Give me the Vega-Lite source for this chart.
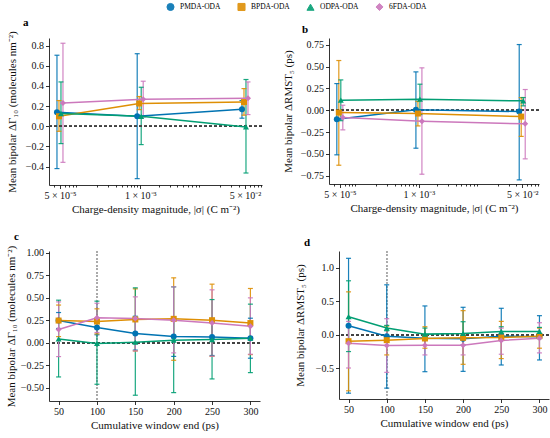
{
  "$schema": "https://vega.github.io/schema/vega-lite/v6.json",
  "padding": {"top": 2, "left": 5, "right": 4, "bottom": 4},
  "datasets": {
    "a": [
      {"series": "PMDA-ODA", "x": 0.00005, "y": 0.139, "lo": -0.42, "hi": 0.705},
      {"series": "PMDA-ODA", "x": 0.001, "y": 0.099, "lo": -0.52, "hi": 0.72},
      {"series": "PMDA-ODA", "x": 0.05, "y": 0.168, "lo": 0.08, "hi": 0.255},
      {"series": "BPDA-ODA", "x": 0.00005, "y": 0.099, "lo": -0.05, "hi": 0.255},
      {"series": "BPDA-ODA", "x": 0.001, "y": 0.226, "lo": 0.165, "hi": 0.295},
      {"series": "BPDA-ODA", "x": 0.05, "y": 0.24, "lo": 0.11, "hi": 0.374},
      {"series": "ODPA-ODA", "x": 0.00005, "y": 0.126, "lo": -0.172, "hi": 0.44},
      {"series": "ODPA-ODA", "x": 0.001, "y": 0.099, "lo": -0.182, "hi": 0.387},
      {"series": "ODPA-ODA", "x": 0.05, "y": -0.007, "lo": -0.464, "hi": 0.464},
      {"series": "6FDA-ODA", "x": 0.00005, "y": 0.232, "lo": -0.358, "hi": 0.824},
      {"series": "6FDA-ODA", "x": 0.001, "y": 0.268, "lo": 0.09, "hi": 0.447},
      {"series": "6FDA-ODA", "x": 0.05, "y": 0.278, "lo": 0.116, "hi": 0.44}
    ],
    "b": [
      {"series": "PMDA-ODA", "x": 0.00005, "y": -0.103, "lo": -0.511, "hi": 0.305},
      {"series": "PMDA-ODA", "x": 0.001, "y": 0.004, "lo": -0.435, "hi": 0.439},
      {"series": "PMDA-ODA", "x": 0.05, "y": -0.015, "lo": -0.798, "hi": 0.752},
      {"series": "BPDA-ODA", "x": 0.00005, "y": -0.027, "lo": -0.63, "hi": 0.569},
      {"series": "BPDA-ODA", "x": 0.001, "y": -0.038, "lo": -0.18, "hi": 0.1},
      {"series": "BPDA-ODA", "x": 0.05, "y": -0.073, "lo": -0.3, "hi": 0.145},
      {"series": "ODPA-ODA", "x": 0.00005, "y": 0.115, "lo": -0.12, "hi": 0.347},
      {"series": "ODPA-ODA", "x": 0.001, "y": 0.126, "lo": -0.05, "hi": 0.298},
      {"series": "ODPA-ODA", "x": 0.05, "y": 0.107, "lo": 0.05, "hi": 0.145},
      {"series": "6FDA-ODA", "x": 0.00005, "y": -0.084, "lo": -0.225, "hi": 0.057},
      {"series": "6FDA-ODA", "x": 0.001, "y": -0.126, "lo": -0.733, "hi": 0.485},
      {"series": "6FDA-ODA", "x": 0.05, "y": -0.156, "lo": -0.557, "hi": 0.237}
    ],
    "c": [
      {"series": "PMDA-ODA", "x": 50, "y": 0.248, "lo": 0.16, "hi": 0.337},
      {"series": "PMDA-ODA", "x": 100, "y": 0.17, "lo": 0.09, "hi": 0.25},
      {"series": "PMDA-ODA", "x": 150, "y": 0.104, "lo": -0.08, "hi": 0.296},
      {"series": "PMDA-ODA", "x": 200, "y": 0.07, "lo": -0.15, "hi": 0.29},
      {"series": "PMDA-ODA", "x": 250, "y": 0.066, "lo": -0.14, "hi": 0.27},
      {"series": "PMDA-ODA", "x": 300, "y": 0.052, "lo": -0.17, "hi": 0.274},
      {"series": "BPDA-ODA", "x": 50, "y": 0.248, "lo": 0.07, "hi": 0.42},
      {"series": "BPDA-ODA", "x": 100, "y": 0.237, "lo": 0.1, "hi": 0.378},
      {"series": "BPDA-ODA", "x": 150, "y": 0.26, "lo": -0.09, "hi": 0.6},
      {"series": "BPDA-ODA", "x": 200, "y": 0.267, "lo": -0.193, "hi": 0.722},
      {"series": "BPDA-ODA", "x": 250, "y": 0.252, "lo": -0.15, "hi": 0.652},
      {"series": "BPDA-ODA", "x": 300, "y": 0.22, "lo": -0.13, "hi": 0.604},
      {"series": "ODPA-ODA", "x": 50, "y": 0.044, "lo": -0.378, "hi": 0.474},
      {"series": "ODPA-ODA", "x": 100, "y": -0.007, "lo": -0.459, "hi": 0.463},
      {"series": "ODPA-ODA", "x": 150, "y": 0.007, "lo": -0.581, "hi": 0.611},
      {"series": "ODPA-ODA", "x": 200, "y": 0.03, "lo": -0.552, "hi": 0.622},
      {"series": "ODPA-ODA", "x": 250, "y": 0.037, "lo": -0.4, "hi": 0.481},
      {"series": "ODPA-ODA", "x": 300, "y": 0.052, "lo": -0.33, "hi": 0.43},
      {"series": "6FDA-ODA", "x": 50, "y": 0.148, "lo": -0.152, "hi": 0.455},
      {"series": "6FDA-ODA", "x": 100, "y": 0.278, "lo": 0.115, "hi": 0.44},
      {"series": "6FDA-ODA", "x": 150, "y": 0.27, "lo": -0.089, "hi": 0.511},
      {"series": "6FDA-ODA", "x": 200, "y": 0.252, "lo": -0.111, "hi": 0.622},
      {"series": "6FDA-ODA", "x": 250, "y": 0.222, "lo": -0.148, "hi": 0.589},
      {"series": "6FDA-ODA", "x": 300, "y": 0.185, "lo": -0.126, "hi": 0.5}
    ],
    "d": [
      {"series": "PMDA-ODA", "x": 50, "y": 0.135, "lo": -0.87, "hi": 1.14},
      {"series": "PMDA-ODA", "x": 100, "y": -0.02, "lo": -0.795, "hi": 0.745},
      {"series": "PMDA-ODA", "x": 150, "y": -0.05, "lo": -0.55, "hi": 0.43},
      {"series": "PMDA-ODA", "x": 200, "y": -0.06, "lo": -0.545, "hi": 0.41},
      {"series": "PMDA-ODA", "x": 250, "y": -0.02, "lo": -0.45, "hi": 0.395},
      {"series": "PMDA-ODA", "x": 300, "y": -0.03, "lo": -0.375, "hi": 0.285},
      {"series": "BPDA-ODA", "x": 50, "y": -0.095, "lo": -0.835, "hi": 0.64},
      {"series": "BPDA-ODA", "x": 100, "y": -0.08, "lo": -0.3, "hi": 0.13},
      {"series": "BPDA-ODA", "x": 150, "y": -0.055, "lo": -0.2, "hi": 0.12},
      {"series": "BPDA-ODA", "x": 200, "y": -0.045, "lo": -0.44, "hi": 0.36},
      {"series": "BPDA-ODA", "x": 250, "y": -0.04, "lo": -0.355, "hi": 0.2},
      {"series": "BPDA-ODA", "x": 300, "y": -0.02, "lo": -0.2, "hi": 0.1},
      {"series": "ODPA-ODA", "x": 50, "y": 0.27, "lo": -0.25, "hi": 0.805},
      {"series": "ODPA-ODA", "x": 100, "y": 0.1, "lo": 0.06, "hi": 0.14},
      {"series": "ODPA-ODA", "x": 150, "y": 0.01, "lo": -0.07, "hi": 0.1},
      {"series": "ODPA-ODA", "x": 200, "y": 0.02, "lo": -0.15, "hi": 0.195},
      {"series": "ODPA-ODA", "x": 250, "y": 0.05, "lo": -0.03, "hi": 0.12},
      {"series": "ODPA-ODA", "x": 300, "y": 0.05, "lo": -0.01, "hi": 0.11},
      {"series": "6FDA-ODA", "x": 50, "y": -0.125, "lo": -0.495, "hi": 0.2},
      {"series": "6FDA-ODA", "x": 100, "y": -0.16, "lo": -0.56, "hi": 0.24},
      {"series": "6FDA-ODA", "x": 150, "y": -0.155, "lo": -0.3, "hi": -0.02},
      {"series": "6FDA-ODA", "x": 200, "y": -0.155, "lo": -0.3, "hi": 0.0},
      {"series": "6FDA-ODA", "x": 250, "y": -0.085, "lo": -0.29, "hi": 0.1},
      {"series": "6FDA-ODA", "x": 300, "y": -0.05, "lo": -0.27, "hi": 0.18}
    ]
  },
  "vconcat": [
    {
      "hconcat": [
        {
          "width": 213, "height": 147,
          "title": {"text": "a", "anchor": "start", "frame": "group", "dx": -26, "fontSize": 11, "fontWeight": "bold", "font": "Liberation Serif", "offset": 3},
          "data": {"name": "a"},
          "resolve": {"axis": {"x": "independent"}},
          "layer": [
            {"mark": {"type": "rule", "strokeWidth": 1.2, "opacity": 0.9, "xOffset": {"expr": "datum.series === 'PMDA-ODA' ? -3 : datum.series === 'BPDA-ODA' ? -1 : datum.series === 'ODPA-ODA' ? 1 : 3"}},
             "encoding": {
               "x": {"field": "x", "type": "quantitative", "scale": {"type": "log", "domain": [0.0000332, 0.0944], "nice": false}, "axis": {"orient": "bottom", "values": [0.00004, 0.00006, 0.00007, 0.00008, 0.00009, 0.0002, 0.0003, 0.0004, 0.0005, 0.0006, 0.0007, 0.0008, 0.0009, 0.002, 0.003, 0.004, 0.005, 0.006, 0.007, 0.008, 0.009, 0.02, 0.03, 0.04, 0.06, 0.07, 0.08, 0.09], "labels": false, "domain": false, "tickSize": 2, "title": null, "grid": false}},
               "y": {"field": "lo", "type": "quantitative", "scale": {"domain": [-0.583, 0.876], "nice": false, "zero": false}, "axis": {"values": [-0.4, -0.2, 0, 0.2, 0.4, 0.6, 0.8], "format": ".1f", "titlePadding": 8, "title": "Mean bipolar ΔΓ₁₀ (molecules nm⁻²)"}},
               "y2": {"field": "hi"},
               "color": {"field": "series", "type": "nominal", "scale": {"domain": ["PMDA-ODA", "BPDA-ODA", "ODPA-ODA", "6FDA-ODA"], "range": ["#0173b2", "#de8f05", "#029e73", "#cc78bc"]}, "legend": {
                   "title": null, "orient": "none", "legendX": 117, "legendY": -36, "direction": "horizontal",
                   "symbolSize": 50, "labelFont": "Liberation Serif", "labelFontSize": 7.5, "columnPadding": 14, "labelOffset": 5, "symbolStrokeWidth": 1,
                   "encode": {"symbols": {
                     "stroke": {"value": {"expr": "scale('color', datum.value)"}},
                     "fill": {"value": {"expr": "scale('color', datum.value)"}}
                   }}
                 }}}},
            {"layer": [
              {"mark": {"type": "rule", "strokeDash": [3, 2], "color": "#444444", "strokeWidth": 0.8}, "encoding": {"y": {"datum": 0, "type": "quantitative", "axis": {"values": [-0.4, -0.2, 0, 0.2, 0.4, 0.6, 0.8], "format": ".1f", "titlePadding": 8, "title": "Mean bipolar ΔΓ₁₀ (molecules nm⁻²)"}}}},
              {"mark": {"type": "tick", "orient": "horizontal", "size": 5, "thickness": 1.2, "opacity": 0.9, "xOffset": {"expr": "datum.series === 'PMDA-ODA' ? -3 : datum.series === 'BPDA-ODA' ? -1 : datum.series === 'ODPA-ODA' ? 1 : 3"}},
               "encoding": {"x": {"field": "x", "type": "quantitative"}, "y": {"field": "lo", "type": "quantitative", "axis": {"values": [-0.4, -0.2, 0, 0.2, 0.4, 0.6, 0.8], "format": ".1f", "titlePadding": 8, "title": "Mean bipolar ΔΓ₁₀ (molecules nm⁻²)"}}, "color": {"field": "series", "type": "nominal"}}},
              {"mark": {"type": "tick", "orient": "horizontal", "size": 5, "thickness": 1.2, "opacity": 0.9, "xOffset": {"expr": "datum.series === 'PMDA-ODA' ? -3 : datum.series === 'BPDA-ODA' ? -1 : datum.series === 'ODPA-ODA' ? 1 : 3"}},
               "encoding": {"x": {"field": "x", "type": "quantitative"}, "y": {"field": "hi", "type": "quantitative", "axis": {"values": [-0.4, -0.2, 0, 0.2, 0.4, 0.6, 0.8], "format": ".1f", "titlePadding": 8, "title": "Mean bipolar ΔΓ₁₀ (molecules nm⁻²)"}}, "color": {"field": "series", "type": "nominal"}}},
              {"mark": {"type": "line", "strokeWidth": 1.5, "xOffset": {"expr": "datum.series === 'PMDA-ODA' ? -3 : datum.series === 'BPDA-ODA' ? -1 : datum.series === 'ODPA-ODA' ? 1 : 3"}},
               "encoding": {"x": {"field": "x", "type": "quantitative"}, "y": {"field": "y", "type": "quantitative", "axis": {"values": [-0.4, -0.2, 0, 0.2, 0.4, 0.6, 0.8], "format": ".1f", "titlePadding": 8, "title": "Mean bipolar ΔΓ₁₀ (molecules nm⁻²)"}}, "color": {"field": "series", "type": "nominal"}}},
              {"mark": {"type": "point", "filled": true, "size": 36, "opacity": 1, "xOffset": {"expr": "datum.series === 'PMDA-ODA' ? -3 : datum.series === 'BPDA-ODA' ? -1 : datum.series === 'ODPA-ODA' ? 1 : 3"}},
               "encoding": {
                 "x": {"field": "x", "type": "quantitative", "axis": {"orient": "bottom", "values": [0.00005, 0.001, 0.05], "labelExpr": "datum.value < 0.0001 ? '5 × 10⁻⁵' : datum.value < 0.01 ? '1 × 10⁻³' : '5 × 10⁻²'", "title": "Charge-density magnitude, |σ| (C m⁻²)"}},
                 "y": {"field": "y", "type": "quantitative", "axis": {"values": [-0.4, -0.2, 0, 0.2, 0.4, 0.6, 0.8], "format": ".1f", "titlePadding": 8, "title": "Mean bipolar ΔΓ₁₀ (molecules nm⁻²)"}},
                 "color": {"field": "series", "type": "nominal"},
                 "shape": {"field": "series", "type": "nominal", "scale": {"domain": ["PMDA-ODA", "BPDA-ODA", "ODPA-ODA", "6FDA-ODA"], "range": ["circle", "square", "triangle-up", "diamond"]}, "legend": null}}}
            ]}
          ]
        },
        {
          "width": 210, "height": 146,
          "title": {"text": "b", "anchor": "start", "frame": "group", "dx": -27, "fontSize": 11, "fontWeight": "bold", "font": "Liberation Serif", "offset": 3},
          "data": {"name": "b"},
          "resolve": {"axis": {"x": "independent"}},
          "layer": [
            {"mark": {"type": "rule", "strokeWidth": 1.2, "opacity": 0.9, "xOffset": {"expr": "datum.series === 'PMDA-ODA' ? -3 : datum.series === 'BPDA-ODA' ? -1 : datum.series === 'ODPA-ODA' ? 1 : 3"}},
             "encoding": {
               "x": {"field": "x", "type": "quantitative", "scale": {"type": "log", "domain": [0.0000332, 0.0944], "nice": false}, "axis": {"orient": "bottom", "values": [0.00004, 0.00006, 0.00007, 0.00008, 0.00009, 0.0002, 0.0003, 0.0004, 0.0005, 0.0006, 0.0007, 0.0008, 0.0009, 0.002, 0.003, 0.004, 0.005, 0.006, 0.007, 0.008, 0.009, 0.02, 0.03, 0.04, 0.06, 0.07, 0.08, 0.09], "labels": false, "domain": false, "tickSize": 2, "title": null, "grid": false}},
               "y": {"field": "lo", "type": "quantitative", "scale": {"domain": [-0.845, 0.827], "nice": false, "zero": false}, "axis": {"values": [-0.75, -0.5, -0.25, 0, 0.25, 0.5, 0.75], "format": ".2f", "titlePadding": 7, "title": "Mean bipolar ΔRMST₅ (ps)"}},
               "y2": {"field": "hi"},
               "color": {"field": "series", "type": "nominal"}}},
            {"layer": [
              {"mark": {"type": "rule", "strokeDash": [3, 2], "color": "#444444", "strokeWidth": 0.8}, "encoding": {"y": {"datum": 0, "type": "quantitative", "axis": {"values": [-0.75, -0.5, -0.25, 0, 0.25, 0.5, 0.75], "format": ".2f", "titlePadding": 7, "title": "Mean bipolar ΔRMST₅ (ps)"}}}},
              {"mark": {"type": "tick", "orient": "horizontal", "size": 5, "thickness": 1.2, "opacity": 0.9, "xOffset": {"expr": "datum.series === 'PMDA-ODA' ? -3 : datum.series === 'BPDA-ODA' ? -1 : datum.series === 'ODPA-ODA' ? 1 : 3"}},
               "encoding": {"x": {"field": "x", "type": "quantitative"}, "y": {"field": "lo", "type": "quantitative", "axis": {"values": [-0.75, -0.5, -0.25, 0, 0.25, 0.5, 0.75], "format": ".2f", "titlePadding": 7, "title": "Mean bipolar ΔRMST₅ (ps)"}}, "color": {"field": "series", "type": "nominal"}}},
              {"mark": {"type": "tick", "orient": "horizontal", "size": 5, "thickness": 1.2, "opacity": 0.9, "xOffset": {"expr": "datum.series === 'PMDA-ODA' ? -3 : datum.series === 'BPDA-ODA' ? -1 : datum.series === 'ODPA-ODA' ? 1 : 3"}},
               "encoding": {"x": {"field": "x", "type": "quantitative"}, "y": {"field": "hi", "type": "quantitative", "axis": {"values": [-0.75, -0.5, -0.25, 0, 0.25, 0.5, 0.75], "format": ".2f", "titlePadding": 7, "title": "Mean bipolar ΔRMST₅ (ps)"}}, "color": {"field": "series", "type": "nominal"}}},
              {"mark": {"type": "line", "strokeWidth": 1.5, "xOffset": {"expr": "datum.series === 'PMDA-ODA' ? -3 : datum.series === 'BPDA-ODA' ? -1 : datum.series === 'ODPA-ODA' ? 1 : 3"}},
               "encoding": {"x": {"field": "x", "type": "quantitative"}, "y": {"field": "y", "type": "quantitative", "axis": {"values": [-0.75, -0.5, -0.25, 0, 0.25, 0.5, 0.75], "format": ".2f", "titlePadding": 7, "title": "Mean bipolar ΔRMST₅ (ps)"}}, "color": {"field": "series", "type": "nominal"}}},
              {"mark": {"type": "point", "filled": true, "size": 36, "opacity": 1, "xOffset": {"expr": "datum.series === 'PMDA-ODA' ? -3 : datum.series === 'BPDA-ODA' ? -1 : datum.series === 'ODPA-ODA' ? 1 : 3"}},
               "encoding": {
                 "x": {"field": "x", "type": "quantitative", "axis": {"orient": "bottom", "values": [0.00005, 0.001, 0.05], "labelExpr": "datum.value < 0.0001 ? '5 × 10⁻⁵' : datum.value < 0.01 ? '1 × 10⁻³' : '5 × 10⁻²'", "title": "Charge-density magnitude, |σ| (C m⁻²)"}},
                 "y": {"field": "y", "type": "quantitative", "axis": {"values": [-0.75, -0.5, -0.25, 0, 0.25, 0.5, 0.75], "format": ".2f", "titlePadding": 7, "title": "Mean bipolar ΔRMST₅ (ps)"}},
                 "color": {"field": "series", "type": "nominal"},
                 "shape": {"field": "series", "type": "nominal", "legend": null}}}
            ]}
          ]
        }
      ],
      "spacing": 19
    },
    {
      "hconcat": [
        {
          "width": 211, "height": 150,
          "title": {"text": "c", "anchor": "start", "frame": "group", "dx": -35, "fontSize": 11, "fontWeight": "bold", "font": "Liberation Serif", "offset": 3},
          "data": {"name": "c"},
          "encoding": {
            "y": {"field": "y", "type": "quantitative", "axis": {"values": [-0.5, -0.25, 0, 0.25, 0.5, 0.75, 1.0], "format": ".2f", "titlePadding": 4, "title": "Mean bipolar ΔΓ₁₀ (molecules nm⁻²)"}}
          },
          "layer": [
            {"mark": {"type": "rule", "strokeDash": [1.5, 2], "color": "#aaaaaa", "strokeWidth": 0.9}, "encoding": {"x": {"datum": 100, "type": "quantitative", "axis": {"values": [50, 100, 150, 200, 250, 300], "title": "Cumulative window end (ps)"}}, "y": null}},
            {"mark": {"type": "rule", "strokeDash": [3, 2], "color": "#444444", "strokeWidth": 0.8}, "encoding": {"y": {"datum": 0, "type": "quantitative", "axis": {"values": [-0.5, -0.25, 0, 0.25, 0.5, 0.75, 1.0], "format": ".2f", "titlePadding": 4, "title": "Mean bipolar ΔΓ₁₀ (molecules nm⁻²)"}}}},
            {"mark": {"type": "rule", "strokeWidth": 1.2, "opacity": 0.9},
             "encoding": {
               "x": {"field": "x", "type": "quantitative", "scale": {"domain": [37.5, 312.5], "nice": false, "zero": false}, "axis": {"values": [50, 100, 150, 200, 250, 300], "title": "Cumulative window end (ps)"}},
               "y": {"field": "lo", "type": "quantitative", "scale": {"domain": [-0.645, 1.02], "nice": false, "zero": false}, "axis": {"values": [-0.5, -0.25, 0, 0.25, 0.5, 0.75, 1.0], "format": ".2f", "titlePadding": 4, "title": "Mean bipolar ΔΓ₁₀ (molecules nm⁻²)"}},
               "y2": {"field": "hi"},
               "color": {"field": "series", "type": "nominal"}}},
            {"mark": {"type": "tick", "orient": "horizontal", "size": 5, "thickness": 1.2, "opacity": 0.9},
             "encoding": {"x": {"field": "x", "type": "quantitative", "axis": {"values": [50, 100, 150, 200, 250, 300], "title": "Cumulative window end (ps)"}}, "y": {"field": "lo", "type": "quantitative", "axis": {"values": [-0.5, -0.25, 0, 0.25, 0.5, 0.75, 1.0], "format": ".2f", "titlePadding": 4, "title": "Mean bipolar ΔΓ₁₀ (molecules nm⁻²)"}}, "color": {"field": "series", "type": "nominal"}}},
            {"mark": {"type": "tick", "orient": "horizontal", "size": 5, "thickness": 1.2, "opacity": 0.9},
             "encoding": {"x": {"field": "x", "type": "quantitative", "axis": {"values": [50, 100, 150, 200, 250, 300], "title": "Cumulative window end (ps)"}}, "y": {"field": "hi", "type": "quantitative", "axis": {"values": [-0.5, -0.25, 0, 0.25, 0.5, 0.75, 1.0], "format": ".2f", "titlePadding": 4, "title": "Mean bipolar ΔΓ₁₀ (molecules nm⁻²)"}}, "color": {"field": "series", "type": "nominal"}}},
            {"mark": {"type": "line", "strokeWidth": 1.5},
             "encoding": {"x": {"field": "x", "type": "quantitative", "axis": {"values": [50, 100, 150, 200, 250, 300], "title": "Cumulative window end (ps)"}}, "color": {"field": "series", "type": "nominal"}}},
            {"mark": {"type": "point", "filled": true, "size": 36, "opacity": 1},
             "encoding": {
               "x": {"field": "x", "type": "quantitative", "axis": {"values": [50, 100, 150, 200, 250, 300], "title": "Cumulative window end (ps)"}},
               "color": {"field": "series", "type": "nominal"},
               "shape": {"field": "series", "type": "nominal", "legend": null}}}
          ]
        },
        {
          "width": 210, "height": 148,
          "title": {"text": "d", "anchor": "start", "frame": "group", "dx": -35, "fontSize": 11, "fontWeight": "bold", "font": "Liberation Serif", "offset": 3},
          "data": {"name": "d"},
          "encoding": {
            "y": {"field": "y", "type": "quantitative", "axis": {"values": [-0.5, 0, 0.5, 1.0], "format": ".1f", "titlePadding": 10, "title": "Mean bipolar ΔRMST₅ (ps)"}}
          },
          "layer": [
            {"mark": {"type": "rule", "strokeDash": [1.5, 2], "color": "#aaaaaa", "strokeWidth": 0.9}, "encoding": {"x": {"datum": 100, "type": "quantitative", "axis": {"values": [50, 100, 150, 200, 250, 300], "title": "Cumulative window end (ps)"}}, "y": null}},
            {"mark": {"type": "rule", "strokeDash": [3, 2], "color": "#444444", "strokeWidth": 0.8}, "encoding": {"y": {"datum": 0, "type": "quantitative", "axis": {"values": [-0.5, 0, 0.5, 1.0], "format": ".1f", "titlePadding": 10, "title": "Mean bipolar ΔRMST₅ (ps)"}}}},
            {"mark": {"type": "rule", "strokeWidth": 1.2, "opacity": 0.9},
             "encoding": {
               "x": {"field": "x", "type": "quantitative", "scale": {"domain": [37.5, 312.5], "nice": false, "zero": false}, "axis": {"values": [50, 100, 150, 200, 250, 300], "title": "Cumulative window end (ps)"}},
               "y": {"field": "lo", "type": "quantitative", "scale": {"domain": [-0.957, 1.249], "nice": false, "zero": false}, "axis": {"values": [-0.5, 0, 0.5, 1.0], "format": ".1f", "titlePadding": 10, "title": "Mean bipolar ΔRMST₅ (ps)"}},
               "y2": {"field": "hi"},
               "color": {"field": "series", "type": "nominal"}}},
            {"mark": {"type": "tick", "orient": "horizontal", "size": 5, "thickness": 1.2, "opacity": 0.9},
             "encoding": {"x": {"field": "x", "type": "quantitative", "axis": {"values": [50, 100, 150, 200, 250, 300], "title": "Cumulative window end (ps)"}}, "y": {"field": "lo", "type": "quantitative", "axis": {"values": [-0.5, 0, 0.5, 1.0], "format": ".1f", "titlePadding": 10, "title": "Mean bipolar ΔRMST₅ (ps)"}}, "color": {"field": "series", "type": "nominal"}}},
            {"mark": {"type": "tick", "orient": "horizontal", "size": 5, "thickness": 1.2, "opacity": 0.9},
             "encoding": {"x": {"field": "x", "type": "quantitative", "axis": {"values": [50, 100, 150, 200, 250, 300], "title": "Cumulative window end (ps)"}}, "y": {"field": "hi", "type": "quantitative", "axis": {"values": [-0.5, 0, 0.5, 1.0], "format": ".1f", "titlePadding": 10, "title": "Mean bipolar ΔRMST₅ (ps)"}}, "color": {"field": "series", "type": "nominal"}}},
            {"mark": {"type": "line", "strokeWidth": 1.5},
             "encoding": {"x": {"field": "x", "type": "quantitative", "axis": {"values": [50, 100, 150, 200, 250, 300], "title": "Cumulative window end (ps)"}}, "color": {"field": "series", "type": "nominal"}}},
            {"mark": {"type": "point", "filled": true, "size": 36, "opacity": 1},
             "encoding": {
               "x": {"field": "x", "type": "quantitative", "axis": {"values": [50, 100, 150, 200, 250, 300], "title": "Cumulative window end (ps)"}},
               "color": {"field": "series", "type": "nominal"},
               "shape": {"field": "series", "type": "nominal", "legend": null}}}
          ]
        }
      ],
      "spacing": 33
    }
  ],
  "spacing": 16,
  "config": {
    "font": "Liberation Serif",
    "view": {"stroke": null},
    "axis": {
      "grid": false, "domainColor": "#000000", "tickColor": "#000000", "labelColor": "#111111", "titleColor": "#111111",
      "labelFont": "Liberation Serif", "titleFont": "Liberation Serif", "labelFontSize": 10, "titleFontSize": 11,
      "titleFontWeight": "normal", "tickSize": 3.5, "domainWidth": 0.8, "tickWidth": 0.8, "labelPadding": 2, "titlePadding": 3,
      "labelOverlap": false
    },
    "title": {"color": "#000000"}
  }
}
